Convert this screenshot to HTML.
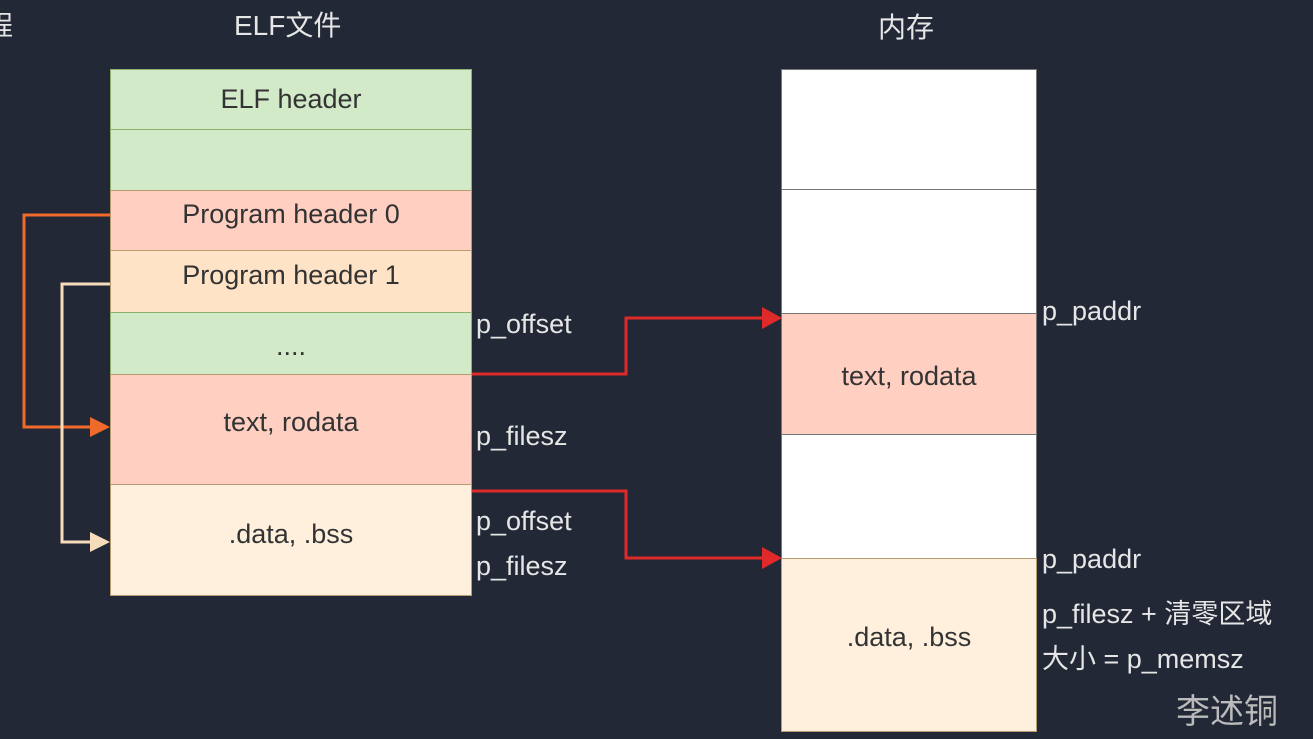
<!DOCTYPE html>
<html><head><meta charset="utf-8"><style>
body{margin:0;width:1313px;height:739px;background:#222836;overflow:hidden;position:relative;font-family:"Liberation Sans","Noto Sans CJK SC",sans-serif}
.b{position:absolute;box-sizing:border-box;display:flex;align-items:center;justify-content:center;font-size:27px;color:#333;border:1px solid #b89a70}
.t{position:absolute;color:#e6e6e6;font-size:27px;white-space:nowrap}
</style></head><body>
<div class="t" style="left:-14px;top:4px">程</div>
<div class="t" style="left:234px;top:4px;font-size:28px">ELF文件</div>
<div class="t" style="left:878px;top:6px;font-size:28px">内存</div>

<div class="b" style="left:110px;top:69px;width:362px;height:61px;background:#d3eac8;border-color:#8cb070">ELF header</div>
<div class="b" style="left:110px;top:129px;width:362px;height:62px;background:#d3eac8;border-color:#8cb070"></div>
<div class="b" style="left:110px;top:190px;width:362px;height:61px;background:#ffcfc2;padding-bottom:12px">Program header 0</div>
<div class="b" style="left:110px;top:250px;width:362px;height:63px;background:#ffe3c6;padding-bottom:12px">Program header 1</div>
<div class="b" style="left:110px;top:312px;width:362px;height:63px;background:#d3eac8;border-color:#8cb070;padding-top:6px">....</div>
<div class="b" style="left:110px;top:374px;width:362px;height:111px;background:#ffcfc2;padding-bottom:14px">text, rodata</div>
<div class="b" style="left:110px;top:484px;width:362px;height:112px;background:#fff0de;padding-bottom:12px">.data, .bss</div>

<div class="b" style="left:781px;top:69px;width:256px;height:121px;background:#fff;border-color:#777"></div>
<div class="b" style="left:781px;top:189px;width:256px;height:125px;background:#fff;border-color:#777"></div>
<div class="b" style="left:781px;top:313px;width:256px;height:122px;background:#ffcfc2;border-color:#777;padding-top:4px">text, rodata</div>
<div class="b" style="left:781px;top:434px;width:256px;height:125px;background:#fff;border-color:#777"></div>
<div class="b" style="left:781px;top:558px;width:256px;height:174px;background:#fff0de;padding-bottom:16px">.data, .bss</div>

<div class="t" style="left:476px;top:309px">p_offset</div>
<div class="t" style="left:476px;top:421px">p_filesz</div>
<div class="t" style="left:476px;top:506px">p_offset</div>
<div class="t" style="left:476px;top:551px">p_filesz</div>
<div class="t" style="left:1042px;top:296px">p_paddr</div>
<div class="t" style="left:1042px;top:544px">p_paddr</div>
<div class="t" style="left:1042px;top:592px">p_filesz + 清零区域</div>
<div class="t" style="left:1042px;top:637px">大小 = p_memsz</div>
<div class="t" style="left:1176px;top:684px;color:#bbb;font-size:34px">李述铜</div>

<svg width="1313" height="739" style="position:absolute;left:0;top:0">
<polyline points="110,215 24,215 24,427 92,427" fill="none" stroke="#f06a2c" stroke-width="3"/>
<polygon points="110,427 90,417 90,437" fill="#f06a2c"/>
<polyline points="110,284 62,284 62,542 92,542" fill="none" stroke="#f7dcbc" stroke-width="3"/>
<polygon points="110,542 90,532 90,552" fill="#f7dcbc"/>
<polyline points="472,374 626,374 626,318 763,318" fill="none" stroke="#e02a2a" stroke-width="3"/>
<polygon points="782,318 762,307 762,329" fill="#e02a2a"/>
<polyline points="472,491 626,491 626,558 763,558" fill="none" stroke="#e02a2a" stroke-width="3"/>
<polygon points="782,558 762,547 762,569" fill="#e02a2a"/>
</svg>
</body></html>
